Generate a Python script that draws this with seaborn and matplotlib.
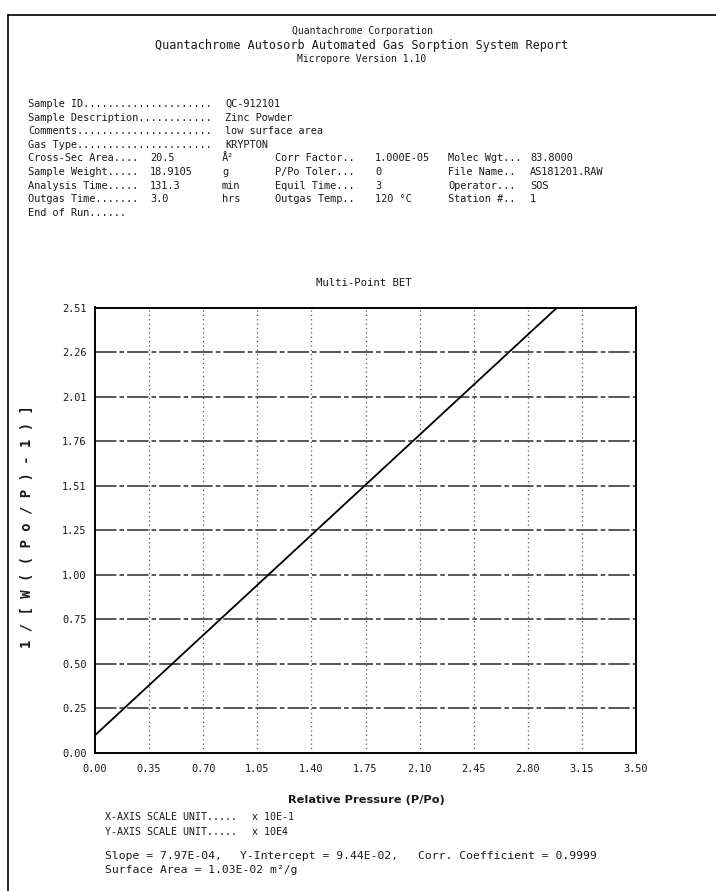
import matplotlib
matplotlib.use("Agg")
import matplotlib.pyplot as plt
from matplotlib.lines import Line2D
import seaborn as sns
import pandas as pd

# ---------------- data ----------------
title_lines = ["Quantachrome Corporation",
               "Quantachrome Autosorb Automated Gas Sorption System Report",
               "Micropore Version 1.10"]
single_labels = ["Sample ID", "Sample Description", "Comments", "Gas Type"]
single_values = ["QC-912101", "Zinc Powder", "low surface area", "KRYPTON"]
grid_labels = ["Cross-Sec Area", "Sample Weight", "Analysis Time", "Outgas Time"]
grid_values = ["20.5", "18.9105", "131.3", "3.0"]
grid_units = ["Å²", "g", "min", "hrs"]
col2_labels = ["Corr Factor..", "P/Po Toler...", "Equil Time...", "Outgas Temp.."]
col2_values = ["1.000E-05", "0", "3", "120 °C"]
col3_labels = ["Molec Wgt...", "File Name..", "Operator...", "Station #.."]
col3_values = ["83.8000", "AS181201.RAW", "SOS", "1"]
end_line = "End of Run......"

plot_title = "Multi-Point BET"
x_label = "Relative Pressure (P/Po)"
y_label = "1/[W((Po/P)-1)]"
x_ticks = [0.00, 0.35, 0.70, 1.05, 1.40, 1.75, 2.10, 2.45, 2.80, 3.15, 3.50]
x_ticklabels = ["0.00", "0.35", "0.70", "1.05", "1.40", "1.75", "2.10", "2.45", "2.80", "3.15", "3.50"]
y_ticks = [0.0, 0.251, 0.502, 0.753, 1.004, 1.255, 1.506, 1.757, 2.008, 2.259, 2.51]
y_ticklabels = ["0.00", "0.25", "0.50", "0.75", "1.00", "1.25", "1.51", "1.76", "2.01", "2.26", "2.51"]

# BET fit line endpoints
line_x = [0.00, 2.99]
line_y = [0.10, 2.51]

footer_labels = ["X-AXIS SCALE UNIT.....", "Y-AXIS SCALE UNIT....."]
footer_values = ["x 10E-1", "x 10E4"]
slope_parts = ["Slope = 7.97E-04,", "Y-Intercept = 9.44E-02,", "Corr. Coefficient = 0.9999"]
surface_line = "Surface Area = 1.03E-02 m²/g"

# ---------------- figure ----------------
sns.set_style("white")
plt.rcParams["font.family"] = ["DejaVu Sans Mono", "DejaVu Sans"]

W, H = 716, 891
fig = plt.figure(figsize=(W / 100, H / 100), dpi=100)
fig.patch.set_facecolor("white")

def fx(px):
    return px / W

def fy(py):
    return 1 - py / H

MONO = ["DejaVu Sans Mono", "DejaVu Sans"]
HS = 7.4  # header font size
CW = 0.602 * HS * 100 / 72  # mono char width in px

def put(px, py, s, size=HS, ha="left", **kw):
    fig.text(fx(px), fy(py), s, fontsize=size, ha=ha, va="center",
             family=MONO, color="#1a1a1a", **kw)

def leader(label, x0, x1):
    """label followed by dot leaders filling up to x1 (pixels)."""
    n = int((x1 - x0) / CW) - len(label) - 1
    return label + "." * max(n, 2)

# page border
fig.add_artist(Line2D([fx(8), fx(716)], [fy(15), fy(15)], color="black", lw=1.2))
fig.add_artist(Line2D([fx(8), fx(8)], [fy(15), fy(891)], color="black", lw=1.2))

# titles
title_sizes = [7.0, 8.5, 7.0]
for i, t in enumerate(title_lines):
    put(362, 31 + i * 14, t, size=title_sizes[i], ha="center")

# header block
row0 = 104
step = 13.6
LX, VX1, VX2, UX, C2X, C2V, C3X, C3V = 28, 225, 150, 222, 275, 375, 448, 530
for i, (lab, val) in enumerate(zip(single_labels, single_values)):
    y = row0 + i * step
    put(LX, y, leader(lab, LX, VX1))
    put(VX1, y, val)
for j in range(len(grid_labels)):
    y = row0 + (4 + j) * step
    put(LX, y, leader(grid_labels[j], LX, VX2))
    put(VX2, y, grid_values[j])
    put(UX, y, grid_units[j])
    put(C2X, y, col2_labels[j])
    put(C2V, y, col2_values[j])
    put(C3X, y, col3_labels[j])
    put(C3V, y, col3_values[j])
put(LX, row0 + 8 * step, end_line)

# plot title
put(364, 283, plot_title, size=7.7, ha="center")

# ---------------- axes ----------------
left, right, top, bottom = 95, 636, 307.5, 753
ax = fig.add_axes([fx(left), fy(bottom), (right - left) / W, (bottom - top) / H])
ax.set_facecolor("white")

df = pd.DataFrame({"x": line_x, "y": line_y})
sns.lineplot(data=df, x="x", y="y", ax=ax, color="black", lw=1.3, zorder=5)

ax.set_xlim(0, 3.5)
ax.set_ylim(0, 2.51)
ax.set_xticks(x_ticks)
ax.set_xticklabels(x_ticklabels, family=MONO, fontsize=7.4)
ax.set_yticks(y_ticks)
ax.set_yticklabels(y_ticklabels, family=MONO, fontsize=7.4)
ax.tick_params(axis="x", length=0, pad=8, colors="#1a1a1a")
ax.tick_params(axis="y", length=4, width=1, pad=2, colors="#1a1a1a", direction="out")
ax.set_xlabel("")
ax.set_ylabel("")

for sp in ax.spines.values():
    sp.set_visible(True)
    sp.set_color("black")
    sp.set_linewidth(1.4)

for yv in y_ticks[1:-1]:
    ax.axhline(yv, color="#2a2a2a", lw=1.1, ls=(0, (14, 2, 3, 2)), zorder=1)
for xv in x_ticks[1:-1]:
    ax.axvline(xv, color="#555555", lw=0.9, ls=(0, (1, 2.5)), zorder=1)

# axis labels
fig.text(fx(366), fy(800), x_label, fontsize=8.2, ha="center", va="center",
         family=["DejaVu Sans"], weight="bold", color="#1a1a1a")
fig.text(fx(27), fy(527), " ".join(y_label), fontsize=10, ha="center", va="center",
         rotation=90, family=MONO, weight="bold", color="#1a1a1a")

# footer
for k in range(2):
    put(105, 817 + 15 * k, footer_labels[k], size=7.2)
    put(252, 817 + 15 * k, footer_values[k], size=7.2)
put(105, 856, slope_parts[0], size=8.2)
put(240, 856, slope_parts[1], size=8.2)
put(418, 856, slope_parts[2], size=8.2)
put(105, 870, surface_line, size=8.2)

fig.savefig("out.png", dpi=100, facecolor="white")
